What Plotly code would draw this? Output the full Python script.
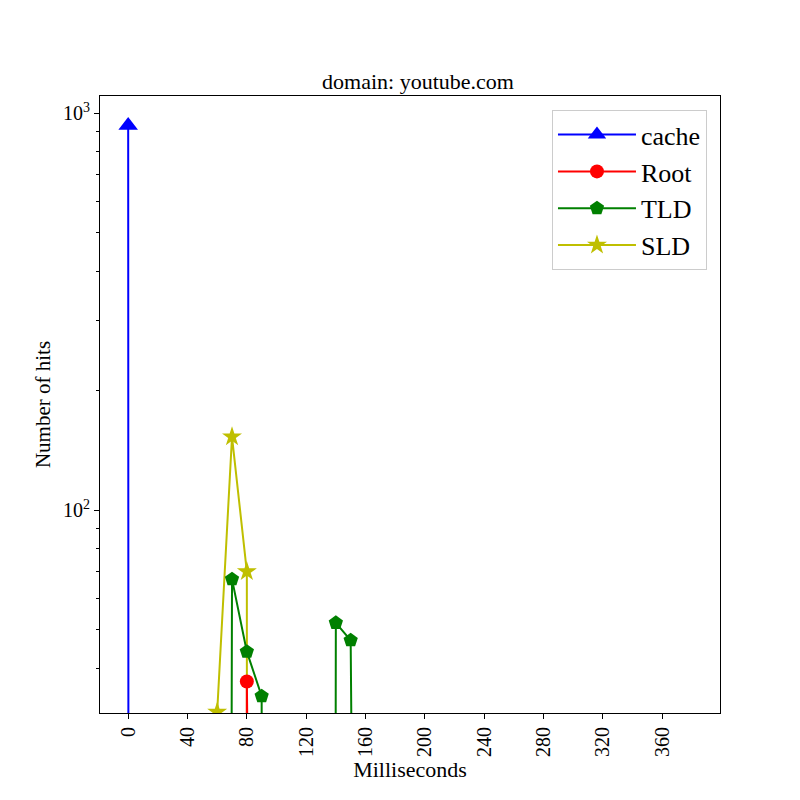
import plotly.graph_objects as go

# 10 ms bins
ms = [0, 10, 20, 30, 40, 50, 60, 70, 80, 90,
      100, 110, 120, 130, 140, 150, 160, 170, 180, 190,
      200, 210, 220, 230, 240, 250, 260, 270, 280, 290,
      300, 310, 320, 330, 340, 350, 360, 370, 380]

cache = [930, 0, 0, 0, 0, 0, 0, 0, 0, 0,
         0, 0, 0, 0, 0, 0, 0, 0, 0, 0,
         0, 0, 0, 0, 0, 0, 0, 0, 0, 0,
         0, 0, 0, 0, 0, 0, 0, 0, 0]
root = [0, 0, 0, 0, 0, 0, 0, 0, 37, 0,
        0, 0, 0, 0, 0, 0, 0, 0, 0, 0,
        0, 0, 0, 0, 0, 0, 0, 0, 0, 0,
        0, 0, 0, 0, 0, 0, 0, 0, 0]
tld = [0, 0, 0, 0, 0, 0, 0, 67, 44, 34,
       0, 0, 0, 0, 52, 47, 0, 0, 0, 0,
       0, 0, 0, 0, 0, 0, 0, 0, 0, 0,
       0, 0, 0, 0, 0, 0, 0, 0, 0]
sld = [0, 0, 0, 0, 0, 0, 31, 153, 70, 0,
       0, 0, 0, 0, 0, 0, 0, 0, 0, 0,
       0, 0, 0, 0, 0, 0, 0, 0, 0, 0,
       0, 0, 0, 0, 0, 0, 0, 0, 0]

x_ticks = [0, 40, 80, 120, 160, 200, 240, 280, 320, 360]


def clip(vals):
    # log axis: push zero counts far below the view, like matplotlib's clip
    return [v if v > 0 else 1e-100 for v in vals]


FONT = "Liberation Serif, Times New Roman, serif"

series = [
    ("SLD", sld, "rgb(191,191,0)", "star", 15, 4),
    ("cache", cache, "rgb(0,0,255)", "triangle-up", 17, 1),
    ("Root", root, "rgb(255,0,0)", "circle", 14, 2),
    ("TLD", tld, "rgb(0,128,0)", "pentagon", 15, 3),
]

fig = go.Figure()
for name, vals, color, sym, size, rank in series:
    fig.add_trace(go.Scatter(
        x=ms, y=clip(vals), name=name, mode="lines+markers",
        line=dict(color=color, width=2),
        marker=dict(symbol=sym, size=size, color=color, line=dict(width=0)),
        legendrank=rank, cliponaxis=True,
    ))

fig.update_xaxes(
    range=[-19, 399],
    tickvals=x_ticks, tickangle=-90,
    ticks="outside", ticklen=5, tickwidth=1, tickcolor="black",
    showline=True, linecolor="black", linewidth=1, mirror=True,
    showgrid=False, zeroline=False,
    tickfont=dict(size=20),
    title=dict(text="Milliseconds", font=dict(size=22), standoff=2),
)

fig.update_yaxes(
    type="log", range=[1.489, 3.043],
    tickvals=[100, 1000], ticktext=["10<sup>2</sup>", "10<sup>3</sup>"],
    ticks="outside", ticklen=5, tickwidth=1, tickcolor="black",
    minor=dict(tickvals=[40, 50, 60, 70, 80, 90, 200, 300, 400, 500, 600, 700, 800, 900],
               ticks="outside", ticklen=3, tickwidth=1, tickcolor="black", showgrid=False),
    showline=True, linecolor="black", linewidth=1, mirror=True,
    showgrid=False, zeroline=False,
    tickfont=dict(size=20),
    title=dict(text="Number of hits", font=dict(size=21), standoff=6),
)

# page body adds an 8px offset, so margins are shifted to keep the plot box at 100..720 x 96..713
fig.update_layout(
    width=800, height=800,
    margin=dict(l=92, r=88, t=88, b=95),
    plot_bgcolor="white", paper_bgcolor="white",
    font=dict(family=FONT, color="black"),
    title=dict(text="domain: youtube.com", x=0.5125, xanchor="center",
               y=0.9085, yanchor="middle", font=dict(size=22)),
    showlegend=True,
    legend=dict(x=0.979, y=0.977, xanchor="right", yanchor="top",
                bordercolor="#cccccc", borderwidth=1, bgcolor="white",
                font=dict(size=26), itemwidth=78, tracegroupgap=0),
)

fig.write_html("out.html")
